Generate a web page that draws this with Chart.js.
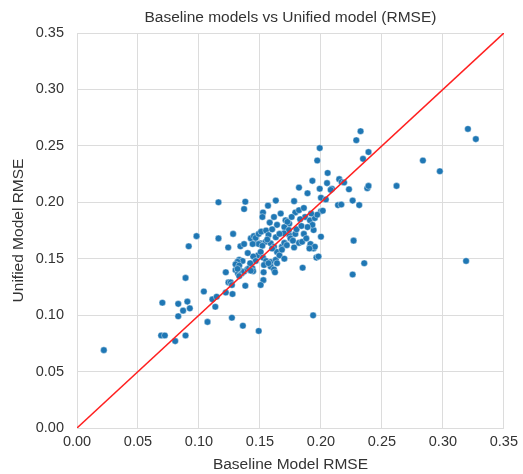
<!DOCTYPE html>
<html>
<head>
<meta charset="utf-8">
<script src="https://cdn.jsdelivr.net/npm/chart.js@4"></script>
<style>
  body { margin: 0; background: #fff; }
  #wrap { width: 523px; height: 474px; }
</style>
</head>
<body>
<div id="wrap"><canvas id="scatterChart" width="523" height="474"></canvas></div>
<script>
// baseline RMSE (x) and unified RMSE (y)
const baselineRmse = [
  0.022, 0.069, 0.072, 0.070, 0.0805, 0.083, 0.083, 0.087, 0.089, 0.089,
  0.0905, 0.0925, 0.0916, 0.098, 0.104, 0.107, 0.111, 0.1145, 0.1134, 0.116,
  0.116, 0.122, 0.122, 0.124, 0.1242, 0.126, 0.127, 0.1275, 0.127, 0.128,
  0.130, 0.132, 0.134, 0.132, 0.135, 0.133, 0.137, 0.1397, 0.141, 0.1438,
  0.1444, 0.1425, 0.138, 0.136, 0.149, 0.134, 0.137, 0.138, 0.137, 0.133,
  0.1357, 0.1316, 0.130, 0.133, 0.1316, 0.1425, 0.1465, 0.1506, 0.1547, 0.1588,
  0.145, 0.1465, 0.149, 0.151, 0.155, 0.157, 0.149, 0.152, 0.156, 0.1525,
  0.1566, 0.163, 0.152, 0.1615, 0.167, 0.178, 0.171, 0.174, 0.170, 0.164,
  0.1725, 0.163, 0.174, 0.179, 0.1737, 0.1697, 0.175, 0.182, 0.191, 0.194,
  0.1846, 0.1914, 0.195, 0.1906, 0.1963, 0.185, 0.194, 0.187, 0.191, 0.193,
  0.189, 0.179, 0.182, 0.186, 0.182, 0.189, 0.193, 0.197, 0.199, 0.2055,
  0.205, 0.199, 0.209, 0.200, 0.2015, 0.200, 0.204, 0.214, 0.2167, 0.215,
  0.217, 0.219, 0.208, 0.223, 0.226, 0.2314, 0.238, 0.239, 0.2325, 0.229,
  0.239, 0.2345, 0.262, 0.2836, 0.2975, 0.3205, 0.327, 0.319, 0.200, 0.2268,
  0.2355, 0.226, 0.1936, 0.198, 0.1485, 0.1506, 0.1525, 0.155, 0.1588, 0.163,
  0.164, 0.1588, 0.1615, 0.1623, 0.1533, 0.157, 0.153, 0.1528, 0.1506, 0.1615,
  0.164, 0.168, 0.170, 0.166, 0.1445, 0.1465, 0.168, 0.172, 0.177, 0.180,
  0.184, 0.186, 0.188, 0.183, 0.176, 0.195, 0.197, 0.192, 0.160, 0.158,
  0.166, 0.140, 0.142, 0.144, 0.160, 0.170, 0.178
];
const unifiedRmse = [
  0.069, 0.082, 0.082, 0.111, 0.077, 0.110, 0.099, 0.104, 0.082, 0.133,
  0.112, 0.106, 0.161, 0.170, 0.121, 0.094, 0.114, 0.1163, 0.1074, 0.200,
  0.168, 0.120, 0.138, 0.160, 0.129, 0.129, 0.1267, 0.1187, 0.0977, 0.172,
  0.140, 0.1405, 0.139, 0.137, 0.137, 0.1346, 0.1386, 0.1406, 0.1415, 0.1415,
  0.139, 0.1394, 0.126, 0.0906, 0.086, 0.161, 0.163, 0.2005, 0.194, 0.149,
  0.148, 0.1473, 0.145, 0.144, 0.141, 0.168, 0.164, 0.1636, 0.165, 0.1636,
  0.170, 0.1685, 0.172, 0.174, 0.175, 0.171, 0.163, 0.1615, 0.167, 0.191,
  0.197, 0.2015, 0.187, 0.187, 0.190, 0.201, 0.184, 0.181, 0.178, 0.180,
  0.1827, 0.169, 0.171, 0.172, 0.1754, 0.1725, 0.168, 0.164, 0.161, 0.159,
  0.165, 0.163, 0.1606, 0.159, 0.151, 0.142, 0.1754, 0.187, 0.184, 0.180,
  0.178, 0.191, 0.193, 0.195, 0.213, 0.208, 0.219, 0.237, 0.248, 0.226,
  0.217, 0.212, 0.212, 0.192, 0.1925, 0.204, 0.2025, 0.1975, 0.198, 0.2205,
  0.218, 0.2175, 0.211, 0.2115, 0.2015, 0.1975, 0.2125, 0.2145, 0.263, 0.255,
  0.2445, 0.2385, 0.2145, 0.237, 0.2275, 0.265, 0.256, 0.148, 0.1695, 0.166,
  0.146, 0.136, 0.0998, 0.152, 0.153, 0.156, 0.151, 0.148, 0.147, 0.149,
  0.146, 0.143, 0.1405, 0.138, 0.1444, 0.146, 0.138, 0.131, 0.1267, 0.1606,
  0.156, 0.1606, 0.164, 0.153, 0.152, 0.148, 0.158, 0.162, 0.166, 0.176,
  0.179, 0.172, 0.168, 0.185, 0.187, 0.186, 0.189, 0.190, 0.176, 0.182,
  0.172, 0.155, 0.146, 0.163, 0.159, 0.150, 0.160
];
const axisTicks = [0, 0.05, 0.10, 0.15, 0.20, 0.25, 0.30, 0.35];
const identityLine = [0, 0.35];
const chartTitle = 'Baseline models vs Unified model (RMSE)';

const points = baselineRmse.map((b, i) => ({ x: b, y: unifiedRmse[i] }));
const linePoints = identityLine.map(v => ({ x: v, y: v }));

const gridColor = '#dcdcdc';
const textColor = '#333333';
const fontFamily = '"Liberation Sans", Arial, sans-serif';

// title centred over the plot area, like matplotlib does
const plotTitle = {
  id: 'plotTitle',
  afterDraw(chart) {
    const { ctx, chartArea } = chart;
    ctx.save();
    ctx.fillStyle = textColor;
    ctx.font = '15.5px ' + fontFamily;
    ctx.textAlign = 'center';
    ctx.textBaseline = 'middle';
    ctx.fillText(chartTitle, (chartArea.left + chartArea.right) / 2, 18);
    ctx.restore();
  }
};

new Chart(document.getElementById('scatterChart').getContext('2d'), {
  type: 'scatter',
  data: {
    datasets: [{
      type: 'line',
      data: linePoints,
      borderColor: '#ff2020',
      borderWidth: 1.5,
      pointRadius: 0,
      order: 0
    }, {
      data: points,
      backgroundColor: '#1f77b4',
      borderColor: '#ffffff',
      borderWidth: 0.4,
      pointRadius: 3.3,
      order: 1
    }]
  },
  plugins: [plotTitle],
  options: {
    responsive: false,
    animation: false,
    layout: { padding: { top: 33, right: 17 } },
    plugins: {
      legend: { display: false },
      tooltip: { enabled: false },
      title: { display: false }
    },
    scales: {
      x: {
        type: 'linear',
        min: 0,
        max: 0.35,
        afterBuildTicks: axis => { axis.ticks = axisTicks.map(v => ({ value: v })); },
        afterFit: axis => { axis.height = 46; },
        grid: { color: gridColor, drawTicks: false },
        border: { color: gridColor },
        ticks: {
          color: textColor,
          padding: 5,
          font: { family: fontFamily, size: 14.5 },
          callback: v => v.toFixed(2)
        },
        title: {
          display: true,
          text: 'Baseline Model RMSE',
          color: textColor,
          padding: 0,
          font: { family: fontFamily, size: 15.5 }
        }
      },
      y: {
        type: 'linear',
        min: 0,
        max: 0.35,
        afterBuildTicks: axis => { axis.ticks = axisTicks.map(v => ({ value: v })); },
        afterFit: axis => { axis.width = 77; },
        grid: { color: gridColor, drawTicks: false },
        border: { color: gridColor },
        ticks: {
          color: textColor,
          padding: 13,
          font: { family: fontFamily, size: 14.5 },
          callback: v => v.toFixed(2)
        },
        title: {
          display: true,
          text: 'Unified Model RMSE',
          color: textColor,
          padding: { top: 9, bottom: 0 },
          font: { family: fontFamily, size: 15.5 }
        }
      }
    }
  }
});
</script>
</body>
</html>
